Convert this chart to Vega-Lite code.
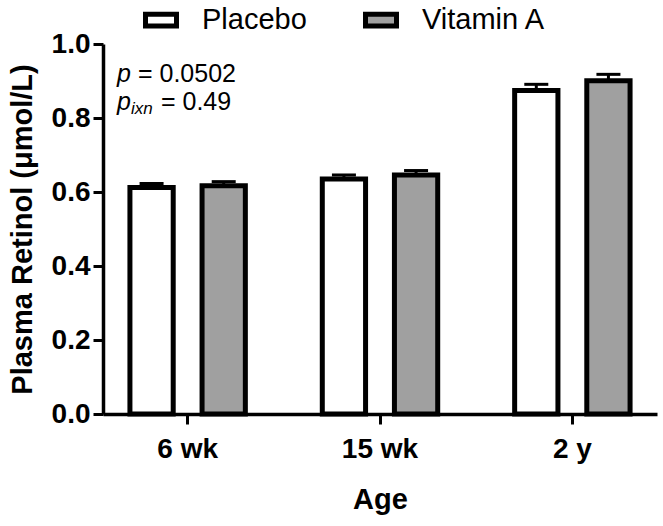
{
  "$schema": "https://vega.github.io/schema/vega-lite/v6.json",
  "autosize": {"type": "none"},
  "padding": {"left": 103, "top": 44, "right": 6, "bottom": 112},
  "width": 554,
  "height": 370,
  "config": {
    "view": {"stroke": null},
    "font": "Liberation Sans",
    "axis": {
      "domainColor": "black", "domainWidth": 3.5, "tickColor": "black", "tickWidth": 3, "tickSize": 10,
      "labelFont": "Liberation Sans", "labelFontWeight": "bold", "labelFontSize": 28, "labelColor": "black",
      "titleFont": "Liberation Sans", "titleFontSize": 29, "titleFontWeight": "bold", "titleColor": "black", "grid": false
    }
  },
  "data": {"values": [
    {"age": "6 wk", "group": "Placebo", "mean": 0.612, "upper": 0.623},
    {"age": "6 wk", "group": "Vitamin A", "mean": 0.617, "upper": 0.628},
    {"age": "15 wk", "group": "Placebo", "mean": 0.635, "upper": 0.646},
    {"age": "15 wk", "group": "Vitamin A", "mean": 0.646, "upper": 0.658},
    {"age": "2 y", "group": "Placebo", "mean": 0.874, "upper": 0.891},
    {"age": "2 y", "group": "Vitamin A", "mean": 0.901, "upper": 0.918}
  ]},
  "layer": [
    {
      "mark": {"type": "bar", "stroke": "black", "strokeWidth": 5},
      "encoding": {
        "x": {"field": "age", "type": "nominal", "sort": ["6 wk", "15 wk", "2 y"],
              "scale": {"paddingInner": 0.4, "paddingOuter": 0.14},
              "axis": {"labelAngle": 0, "labelPadding": 11, "titlePadding": 22}, "title": "Age"},
        "xOffset": {"field": "group", "type": "nominal", "scale": {"paddingInner": 0.4, "paddingOuter": 0}},
        "y": {"field": "mean", "type": "quantitative", "scale": {"domain": [0, 1], "nice": false},
              "axis": {"values": [0, 0.2, 0.4, 0.6, 0.8, 1.0], "format": ".1f", "labelPadding": 3, "titlePadding": 14},
              "title": "Plasma Retinol (μmol/L)"},
        "fill": {"field": "group", "type": "nominal",
                 "scale": {"domain": ["Placebo", "Vitamin A"], "range": ["white", "#a0a0a0"]},
                 "legend": {"orient": "none", "legendX": 40, "legendY": -42, "direction": "horizontal", "title": null,
                            "labelFont": "Liberation Sans", "labelFontSize": 29, "labelColor": "black",
                            "symbolType": "M-1,-0.38H1V0.38H-1Z", "symbolSize": 961, "symbolStrokeWidth": 5,
                            "symbolStrokeColor": "black", "symbolOpacity": 1, "labelOffset": 23, "columnPadding": 48}}
      }
    },
    {
      "mark": {"type": "rule", "color": "black", "strokeWidth": 3},
      "encoding": {
        "x": {"field": "age", "type": "nominal", "sort": ["6 wk", "15 wk", "2 y"]},
        "xOffset": {"field": "group", "type": "nominal"},
        "y": {"field": "mean", "type": "quantitative"},
        "y2": {"field": "upper"}
      }
    },
    {
      "mark": {"type": "tick", "color": "black", "size": 24, "thickness": 3, "opacity": 1},
      "encoding": {
        "x": {"field": "age", "type": "nominal", "sort": ["6 wk", "15 wk", "2 y"]},
        "xOffset": {"field": "group", "type": "nominal"},
        "y": {"field": "upper", "type": "quantitative"}
      }
    },
    {
      "data": {"values": [{"t": "p"}]},
      "mark": {"type": "text", "fontStyle": "italic", "fontSize": 25, "align": "left", "baseline": "middle", "dx": -13, "color": "black"},
      "encoding": {"x": {"datum": "6 wk", "bandPosition": 0}, "y": {"datum": 0.919}, "text": {"field": "t"}}
    },
    {
      "data": {"values": [{"t": "= 0.0502"}]},
      "mark": {"type": "text", "fontSize": 25, "align": "left", "baseline": "middle", "dx": 8, "color": "black"},
      "encoding": {"x": {"datum": "6 wk", "bandPosition": 0}, "y": {"datum": 0.919}, "text": {"field": "t"}}
    },
    {
      "data": {"values": [{"t": "p"}]},
      "mark": {"type": "text", "fontStyle": "italic", "fontSize": 25, "align": "left", "baseline": "middle", "dx": -13, "color": "black"},
      "encoding": {"x": {"datum": "6 wk", "bandPosition": 0}, "y": {"datum": 0.843}, "text": {"field": "t"}}
    },
    {
      "data": {"values": [{"t": "ixn"}]},
      "mark": {"type": "text", "fontStyle": "italic", "fontSize": 17, "align": "left", "baseline": "middle", "dx": 1, "dy": 7, "color": "black"},
      "encoding": {"x": {"datum": "6 wk", "bandPosition": 0}, "y": {"datum": 0.843}, "text": {"field": "t"}}
    },
    {
      "data": {"values": [{"t": "= 0.49"}]},
      "mark": {"type": "text", "fontSize": 25, "align": "left", "baseline": "middle", "dx": 31, "color": "black"},
      "encoding": {"x": {"datum": "6 wk", "bandPosition": 0}, "y": {"datum": 0.843}, "text": {"field": "t"}}
    }
  ]
}
